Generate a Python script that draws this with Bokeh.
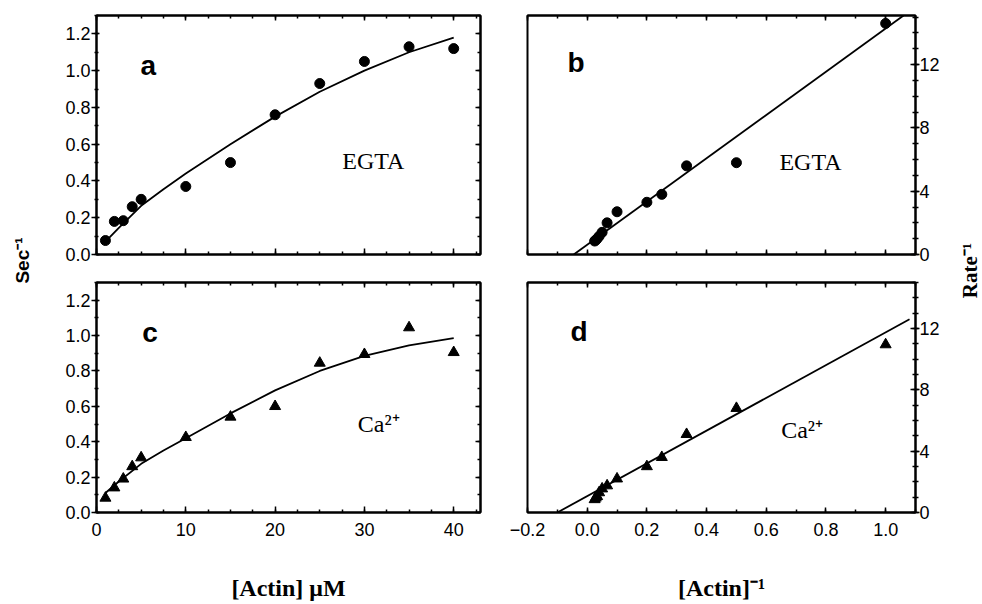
from bokeh.plotting import figure
from bokeh.models import LinearAxis, FixedTicker, CustomJSTickFormatter, Label
from bokeh.layouts import row, column
from bokeh.embed import file_html
from bokeh.resources import INLINE

# ---------------- data ----------------
actin_uM = [1, 2, 3, 4, 5, 10, 15, 20, 25, 30, 35, 40]
rate_egta = [0.076, 0.18, 0.184, 0.26, 0.30, 0.37, 0.50, 0.76, 0.93, 1.05, 1.13, 1.12]
rate_ca = [0.082, 0.14, 0.19, 0.26, 0.31, 0.425, 0.54, 0.60, 0.845, 0.894, 1.045, 0.905]

fit_x = [1, 2.5, 5, 7.5, 10, 15, 20, 25, 30, 35, 40]
fit_egta = [0.07, 0.145, 0.265, 0.355, 0.44, 0.60, 0.75, 0.885, 1.00, 1.10, 1.18]
fit_ca = [0.11, 0.175, 0.275, 0.35, 0.42, 0.56, 0.69, 0.80, 0.885, 0.945, 0.985]

inv_actin = [1.0, 0.5, 0.333, 0.25, 0.2, 0.1, 0.0667, 0.05, 0.04, 0.0333, 0.0286, 0.025]
inv_rate_egta = [14.6, 5.8, 5.6, 3.8, 3.3, 2.7, 2.0, 1.4, 1.15, 1.0, 0.9, 0.85]
inv_rate_ca = [10.95, 6.8, 5.1, 3.6, 3.0, 2.2, 1.75, 1.55, 1.3, 1.05, 0.95, 0.85]

lin_egta_x = [-0.045, 1.06]
lin_egta_y = [0.0, 15.1]
lin_ca_x = [-0.10, 1.08]
lin_ca_y = [0.0, 12.6]

# ---------------- ticks and tick labels ----------------
conc_ticks = [0, 10, 20, 30, 40]
conc_labels = ["0", "10", "20", "30", "40"]
conc_minor = [2.5 * i for i in range(18)]

rate_ticks = [0.0, 0.2, 0.4, 0.6, 0.8, 1.0, 1.2]
rate_labels = ["0.0", "0.2", "0.4", "0.6", "0.8", "1.0", "1.2"]
rate_minor = [0.1 * i for i in range(14)]

inv_x_ticks = [-0.2, 0.0, 0.2, 0.4, 0.6, 0.8, 1.0]
inv_x_labels = ["\u22120.2", "0.0", "0.2", "0.4", "0.6", "0.8", "1.0"]
inv_x_minor = [-0.2 + 0.1 * i for i in range(14)]

inv_y_ticks = [0, 4, 8, 12]
inv_y_labels = ["0", "4", "8", "12"]
inv_y_minor = list(range(16))

SANS = "Liberation Sans"
SERIF = "Liberation Serif"
TICK_SIZE = "18px"
TOTAL_H = 603


def fmt(ticks, labels):
    return CustomJSTickFormatter(args=dict(v=ticks, t=labels), code="""
        for (let i = 0; i < v.length; i++) {
            if (Math.abs(v[i] - tick) < 1e-6) { return t[i]; }
        }
        return '';
    """)


def blank():
    return CustomJSTickFormatter(code="return '';")


def style(ax, ticks, minor, labels=None, tin=0, tout=0, mtin=0, mtout=0, standoff=2):
    ax.ticker = FixedTicker(ticks=ticks, minor_ticks=minor)
    ax.formatter = fmt(ticks, labels) if labels is not None else blank()
    ax.axis_line_color = "black"
    ax.axis_line_width = 2
    ax.major_tick_line_color = "black"
    ax.minor_tick_line_color = "black"
    ax.major_tick_line_width = 1.5
    ax.minor_tick_line_width = 1.5
    ax.major_tick_in = tin
    ax.major_tick_out = tout
    ax.minor_tick_in = mtin
    ax.minor_tick_out = mtout
    ax.major_label_standoff = standoff
    ax.major_label_text_font = SANS
    ax.major_label_text_font_size = TICK_SIZE
    ax.major_label_text_color = "black"


def base(width, height, xr, yr, left, right, top, bottom, yloc="left"):
    p = figure(width=width, height=height, x_range=xr, y_range=yr,
               y_axis_location=yloc, toolbar_location=None, output_backend="svg",
               min_border_left=left, min_border_right=right,
               min_border_top=top, min_border_bottom=bottom)
    p.xgrid.visible = False
    p.ygrid.visible = False
    p.outline_line_color = "black"
    p.outline_line_width = 2
    p.background_fill_color = "white"
    p.border_fill_color = "white"
    return p


def txt(p, x, y, s, font, size, style_="normal"):
    p.add_layout(Label(x=x, y=y, text=s, text_font=font, text_font_size=size,
                       text_font_style=style_, text_align="center",
                       text_baseline="middle", text_color="black"))


def xlabel(ax, s):
    ax.axis_label = s
    ax.axis_label_text_font = SERIF
    ax.axis_label_text_font_size = "24px"
    ax.axis_label_text_font_style = "bold"
    ax.axis_label_text_color = "black"
    ax.axis_label_standoff = 36


# ---------------- panel a ----------------
fa = base(460, 268, (0, 43), (0, 1.30), 56, 20, 15, 13)
style(fa.yaxis[0], rate_ticks, rate_minor, rate_labels, tin=3, tout=5, mtin=2, mtout=2, standoff=1)
style(fa.xaxis[0], conc_ticks, conc_minor, None, tin=6, mtin=3)
ax = LinearAxis(); style(ax, conc_ticks, conc_minor, None, tin=5, mtin=3); fa.add_layout(ax, "above")
ax = LinearAxis(); style(ax, rate_ticks, rate_minor, None, tin=5, mtin=3); fa.add_layout(ax, "right")
fa.line(fit_x, fit_egta, line_color="black", line_width=1.8)
fa.scatter(actin_uM, rate_egta, marker="circle", size=10, fill_color="black", line_color="black")
txt(fa, 5.8, 1.03, "a", SANS, "28px", "bold")
txt(fa, 31.0, 0.51, "EGTA", SERIF, "24px")

# ---------------- panel b ----------------
fb = base(450, 268, (-0.2, 1.1), (0, 15.1), 27, 35, 15, 14, yloc="right")
style(fb.yaxis[0], inv_y_ticks, inv_y_minor, inv_y_labels, tin=5, tout=4, mtin=3, mtout=3, standoff=0)
style(fb.xaxis[0], inv_x_ticks, inv_x_minor, None, tin=5, mtin=3)
ax = LinearAxis(); style(ax, inv_x_ticks, inv_x_minor, None, tin=5, mtin=3); fb.add_layout(ax, "above")
fb.line(lin_egta_x, lin_egta_y, line_color="black", line_width=1.8)
fb.scatter(inv_actin, inv_rate_egta, marker="circle", size=10, fill_color="black", line_color="black")
txt(fb, -0.037, 12.1, "b", SANS, "28px", "bold")
txt(fb, 0.748, 5.87, "EGTA", SERIF, "24px")

# ---------------- panel c ----------------
fc = base(460, TOTAL_H - 268, (0, 43), (0, 1.30), 56, 20, 14, TOTAL_H - 268 - 14 - 237)
style(fc.yaxis[0], rate_ticks, rate_minor, rate_labels, tin=3, tout=5, mtin=2, mtout=2, standoff=1)
style(fc.xaxis[0], conc_ticks, conc_minor, conc_labels, tin=6, mtin=3, standoff=10)
xlabel(fc.xaxis[0], "[Actin] \u03bcM")
ax = LinearAxis(); style(ax, conc_ticks, conc_minor, None, tin=5, mtin=3); fc.add_layout(ax, "above")
ax = LinearAxis(); style(ax, rate_ticks, rate_minor, None, tin=5, mtin=3); fc.add_layout(ax, "right")
fc.line(fit_x, fit_ca, line_color="black", line_width=1.8)
fc.scatter(actin_uM, rate_ca, marker="triangle", size=11, fill_color="black", line_color="black")
txt(fc, 6.0, 1.02, "c", SANS, "28px", "bold")
txt(fc, 31.6, 0.50, "Ca\u00b2\u207a", SERIF, "24px")

# ---------------- panel d ----------------
fd = base(450, TOTAL_H - 268, (-0.2, 1.1), (0, 15.0), 27, 35, 14, TOTAL_H - 268 - 14 - 237, yloc="right")
style(fd.yaxis[0], inv_y_ticks, inv_y_minor, inv_y_labels, tin=5, tout=4, mtin=3, mtout=3, standoff=0)
style(fd.xaxis[0], inv_x_ticks, inv_x_minor, inv_x_labels, tin=5, mtin=3, standoff=10)
xlabel(fd.xaxis[0], "[Actin]\u207b\u00b9")
ax = LinearAxis(); style(ax, inv_x_ticks, inv_x_minor, None, tin=5, mtin=3); fd.add_layout(ax, "above")
fd.line(lin_ca_x, lin_ca_y, line_color="black", line_width=1.8)
fd.scatter(inv_actin, inv_rate_ca, marker="triangle", size=11, fill_color="black", line_color="black")
txt(fd, -0.027, 11.8, "d", SANS, "28px", "bold")
txt(fd, 0.72, 5.4, "Ca\u00b2\u207a", SERIF, "24px")


# ---------------- side titles ----------------
def side(width, s, x, y, font, size):
    p = figure(width=width, height=TOTAL_H, x_range=(0, width), y_range=(0, TOTAL_H),
               toolbar_location=None, output_backend="svg", min_border=0)
    p.axis.visible = False
    p.xgrid.visible = False
    p.ygrid.visible = False
    p.outline_line_color = None
    p.add_layout(Label(x=x, y=y, text=s, angle=90, angle_units="deg",
                       text_font=font, text_font_size=size, text_font_style="bold",
                       text_align="center", text_baseline="middle", text_color="black"))
    return p


left_title = side(40, "Sec\u207b\u00b9", 22, TOTAL_H - 260, SANS, "19px")
right_title = side(32, "Rate\u207b\u00b9", 19, TOTAL_H - 270, SERIF, "21px")

layout = row(left_title, column(row(fa, fb), row(fc, fd)), right_title)

open("out.html", "w").write(file_html(layout, INLINE))
